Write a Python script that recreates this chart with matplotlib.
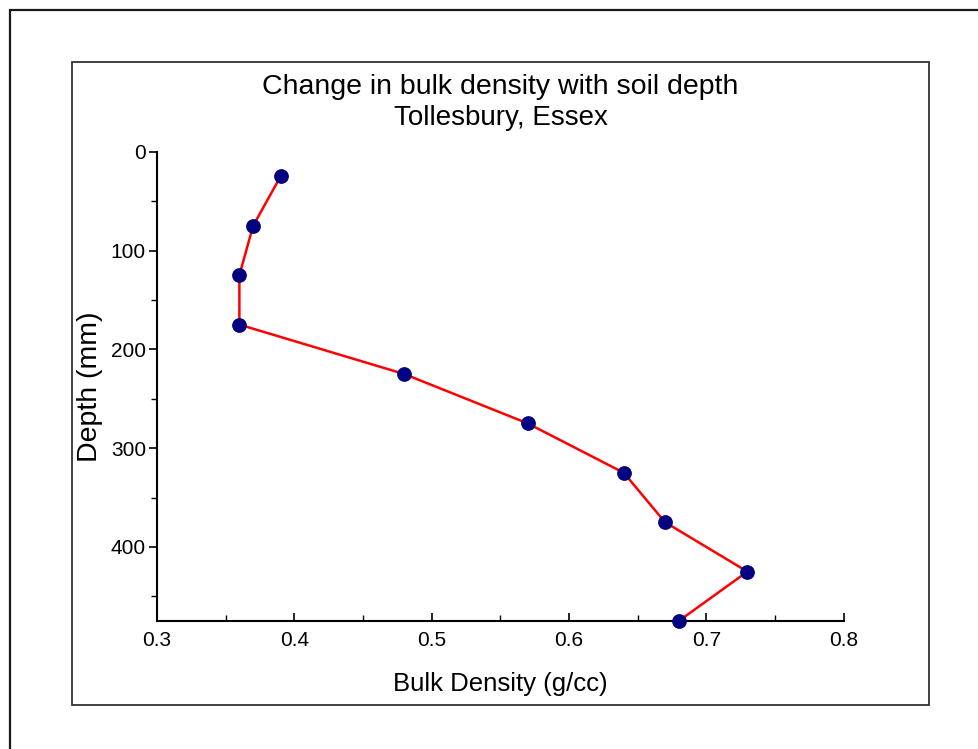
import matplotlib
matplotlib.use("Agg")
import matplotlib.pyplot as plt
from matplotlib.patches import Rectangle
from matplotlib.ticker import MultipleLocator

plt.rcParams['font.family'] = ['Liberation Sans', 'DejaVu Sans']

# Data
depth_mm = [25, 75, 125, 175, 225, 275, 325, 375, 425, 475]
bulk_density = [0.39, 0.37, 0.36, 0.36, 0.48, 0.57, 0.64, 0.67, 0.73, 0.68]
title = "Change in bulk density with soil depth"
subtitle = "Tollesbury, Essex"
xlabel = "Bulk Density (g/cc)"
ylabel = "Depth (mm)"

W, H = 979, 749
fig = plt.figure(figsize=(W / 100, H / 100), dpi=100)
fig.patch.set_facecolor('white')

def fx(px):
    return px / W

def fy(py):
    return 1 - py / H

# Outer and inner frames
fig.patches.append(Rectangle((fx(9.5), fy(760)), fx(1000), fy(9.5) - fy(760),
                             transform=fig.transFigure, fill=False,
                             edgecolor='#1a1a1a', linewidth=1.6))
fig.patches.append(Rectangle((fx(72), fy(705)), fx(929) - fx(72), fy(62) - fy(705),
                             transform=fig.transFigure, fill=False,
                             edgecolor='#333333', linewidth=1.3))

ax = fig.add_axes([fx(157), fy(621), fx(843.5) - fx(157), fy(151.7) - fy(621)])
ax.plot(bulk_density, depth_mm, color='#ff0000', linewidth=1.8, zorder=2, clip_on=False)
ax.plot(bulk_density, depth_mm, linestyle='none', marker='o', markersize=9.6,
        markerfacecolor='#000080', markeredgecolor='#000080', zorder=3, clip_on=False)

ax.set_xlim(0.3, 0.8)
ax.set_ylim(475, 0)
ax.xaxis.set_minor_locator(MultipleLocator(0.05))
ax.yaxis.set_minor_locator(MultipleLocator(50))
ax.set_xticks([0.3, 0.4, 0.5, 0.6, 0.7, 0.8])
ax.set_xticklabels(['0.3', '0.4', '0.5', '0.6', '0.7', '0.8'])
ax.set_yticks([0, 100, 200, 300, 400])
ax.set_yticklabels(['0', '100', '200', '300', '400'])

for s in ['top', 'right']:
    ax.spines[s].set_visible(False)
for s in ['left', 'bottom']:
    ax.spines[s].set_linewidth(1.5)
ax.tick_params(axis='x', which='major', direction='in', length=6, width=1.2,
               pad=7, labelsize=15)
ax.tick_params(axis='x', which='minor', direction='in', length=4, width=1.0)
ax.tick_params(axis='y', which='major', direction='out', length=6, width=1.2,
               pad=2, labelsize=15)
ax.tick_params(axis='y', which='minor', direction='out', length=4, width=1.0)

ax.set_xlabel(xlabel, fontsize=18.5, labelpad=16)
ax.set_ylabel(ylabel, fontsize=20.5, labelpad=5.5)

fig.text(fx(500.5), fy(94), title, ha='center', va='baseline', fontsize=20.5)
fig.text(fx(500.5), fy(125), subtitle, ha='center', va='baseline', fontsize=20)

fig.savefig('out.png', dpi=100, facecolor='white')
